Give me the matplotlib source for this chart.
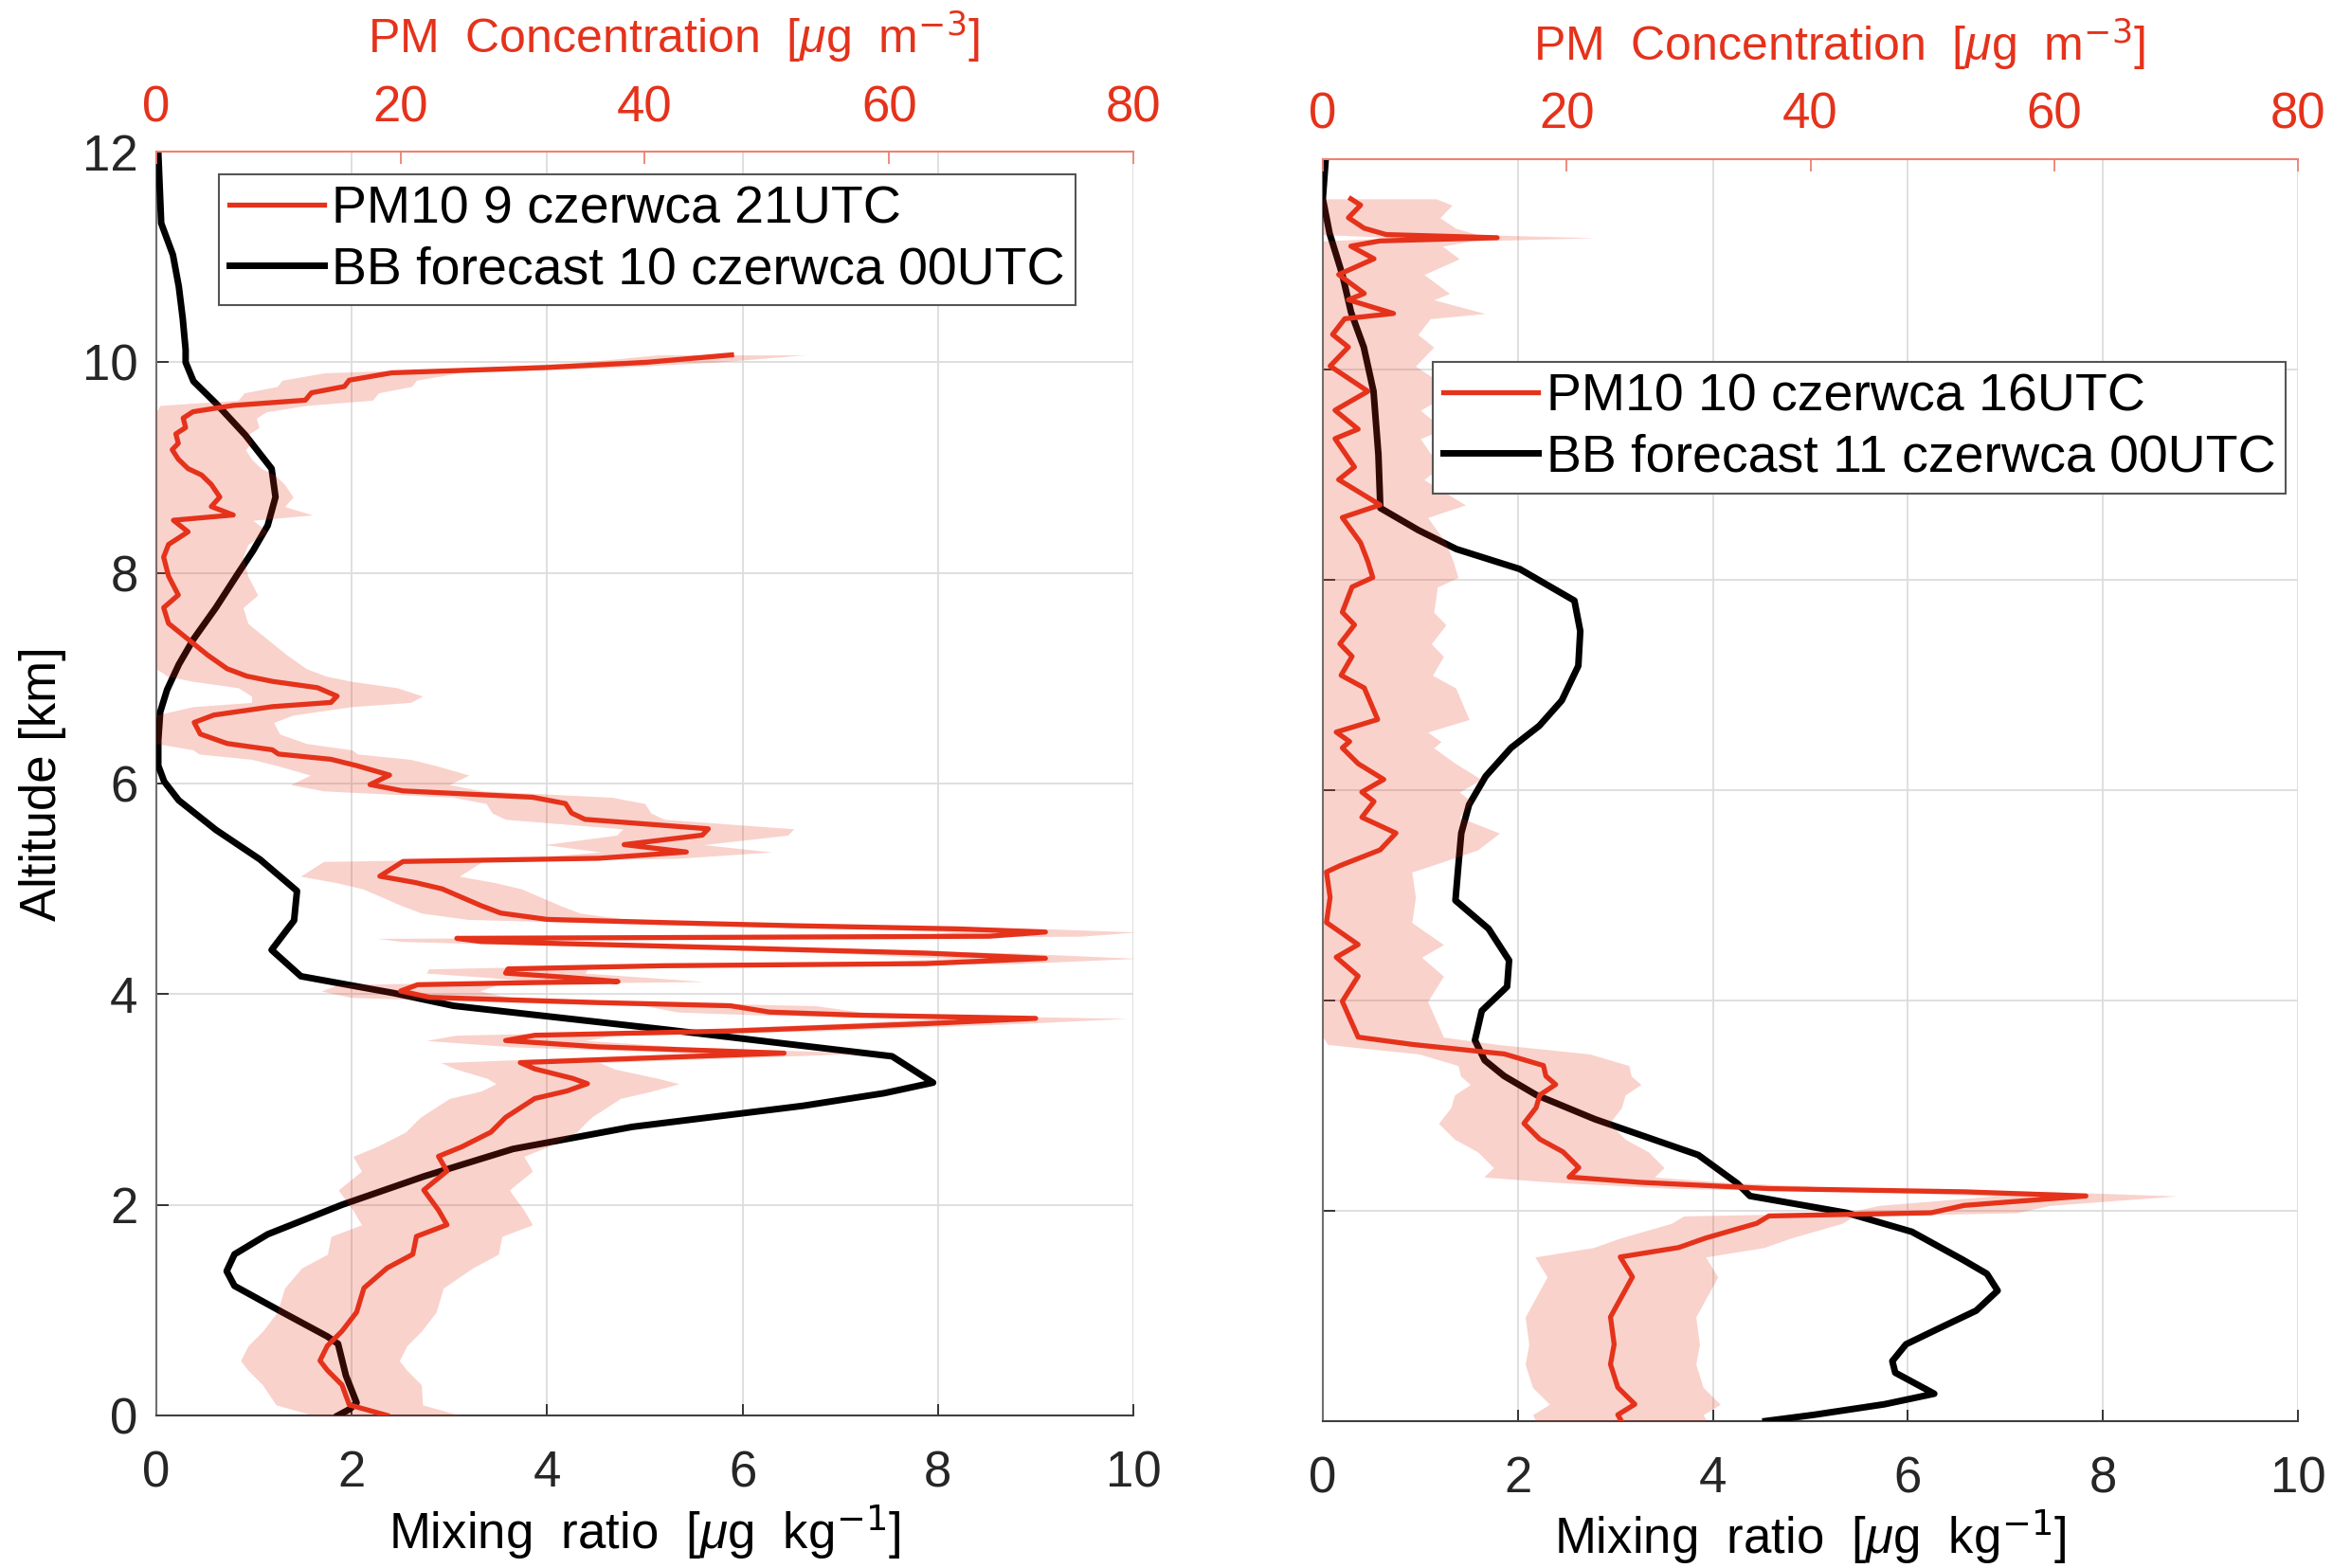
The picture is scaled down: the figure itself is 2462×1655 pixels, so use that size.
import matplotlib
matplotlib.use("Agg")
import matplotlib.pyplot as plt
from matplotlib.lines import Line2D
import numpy as np

# ====== fonts ======
plt.rcParams['font.family'] = ['Liberation Sans', 'DejaVu Sans']
plt.rcParams['mathtext.fontset'] = 'custom'
plt.rcParams['mathtext.rm'] = 'Liberation Sans'
plt.rcParams['mathtext.it'] = 'Liberation Sans:italic'

RED = '#E5321B'
BAND = '#E5321B'
RED_AX = '#EE8070'

# ====== left panel: BB forecast 10 czerwca 00UTC (mixing ratio, ug/kg) ======
left_bb_alt = [12.0, 11.32, 11.02, 10.72, 10.42, 10.12, 10.0, 9.82, 9.61, 9.31,
               8.99, 8.72, 8.45, 8.21, 8.0, 7.67, 7.37, 7.13, 6.89, 6.68,
               6.41, 6.17, 6.02, 5.84, 5.56, 5.28, 4.98, 4.70, 4.42, 4.17,
               4.01, 3.89, 3.66, 3.41, 3.16, 3.06, 2.94, 2.74, 2.53, 2.27,
               2.0, 1.72, 1.53, 1.37, 1.23, 0.98, 0.75, 0.68, 0.38, 0.12,
               0.06, 0.0]
left_bb = [0.02, 0.05, 0.17, 0.23, 0.27, 0.30, 0.30, 0.38, 0.61, 0.91,
           1.18, 1.22, 1.14, 0.99, 0.84, 0.61, 0.38, 0.23, 0.11, 0.04,
           0.02, 0.02, 0.08, 0.23, 0.61, 1.06, 1.44, 1.41, 1.18, 1.48,
           2.43, 3.04, 5.25, 7.53, 7.95, 7.45, 6.62, 4.87, 3.65, 2.74,
           1.90, 1.14, 0.80, 0.72, 0.80, 1.29, 1.75, 1.86, 1.94, 2.05,
           1.98, 1.86]

# ====== left panel: PM10 9 czerwca 21UTC (ug/m3) ======
left_pm_alt = [10.07, 10.0, 9.95, 9.90, 9.83, 9.77, 9.71, 9.64, 9.59, 9.53,
               9.47, 9.38, 9.32, 9.23, 9.17, 9.08, 8.99, 8.93, 8.84, 8.72,
               8.63, 8.55, 8.50, 8.39, 8.27, 8.15, 7.97, 7.79, 7.67, 7.52,
               7.37, 7.22, 7.09, 7.02, 6.97, 6.91, 6.83, 6.77, 6.73, 6.65,
               6.58, 6.47, 6.38, 6.32, 6.28, 6.23, 6.17, 6.08, 5.99, 5.93,
               5.87, 5.81, 5.72, 5.66, 5.57, 5.51, 5.42, 5.35, 5.29, 5.26,
               5.12, 5.06, 5.0, 4.92, 4.84, 4.77, 4.71, 4.68, 4.65, 4.62,
               4.59, 4.55, 4.54, 4.53, 4.50, 4.44, 4.39, 4.34, 4.29, 4.27,
               4.24, 4.20, 4.16, 4.12, 4.11, 4.09, 4.03, 3.97, 3.92, 3.89,
               3.83, 3.80, 3.77, 3.72, 3.65, 3.61, 3.56, 3.50, 3.44, 3.40,
               3.35, 3.29, 3.20, 3.15, 3.08, 3.01, 2.83, 2.69, 2.55, 2.46,
               2.32, 2.14, 1.95, 1.81, 1.70, 1.53, 1.40, 1.21, 0.98, 0.80,
               0.66, 0.52, 0.43, 0.29, 0.10, 0.0]
left_pm = [47.1, 40.2, 31.9, 19.3, 15.8, 15.4, 12.7, 12.2, 6.3, 3.0,
           2.2, 2.4, 1.6, 1.8, 1.3, 1.8, 2.6, 3.7, 4.5, 5.2,
           4.5, 6.3, 1.4, 2.6, 1.0, 0.6, 1.0, 1.8, 0.6, 1.0,
           2.6, 4.2, 5.8, 7.4, 9.5, 13.2, 14.8, 14.3, 9.5, 4.7,
           3.1, 3.6, 5.8, 9.5, 10.0, 14.3, 16.4, 19.1, 17.5, 20.2,
           30.8, 33.5, 34.0, 35.1, 45.2, 44.7, 38.3, 43.4, 36.2, 20.2,
           18.3, 21.2, 23.4, 25.0, 26.6, 28.2, 32.0, 41.6, 52.2, 65.6,
           72.8, 68.2, 47.0, 24.6, 26.6, 47.0, 63.0, 72.8, 63.0, 41.6,
           28.8, 28.6, 33.6, 37.8, 31.0, 21.4, 20.0, 22.4, 36.2, 47.0,
           50.2, 57.6, 72.0, 63.0, 47.0, 31.0, 28.6, 36.2, 51.4, 41.6,
           29.8, 31.0, 34.1, 35.3, 33.6, 31.0, 28.6, 27.4, 25.0, 23.1,
           23.8, 21.9, 23.1, 23.8, 21.3, 21.0, 18.9, 17.0, 16.4, 15.2,
           14.0, 13.4, 14.0, 15.2, 15.8, 18.9]
left_pm_err = [6.0, 5.5, 5.5, 5.5, 5.5, 5.5, 5.5, 5.5, 6.0, 6.0,
               6.0, 6.0, 6.0, 6.0, 6.0, 6.0, 6.0, 6.0, 6.0, 6.0,
               6.0, 6.5, 6.5, 6.5, 6.5, 6.5, 6.5, 6.5, 6.5, 6.5,
               6.5, 6.5, 6.5, 6.5, 6.5, 6.5, 7.0, 6.5, 6.5, 6.5,
               6.5, 6.5, 6.5, 6.5, 6.5, 6.5, 6.5, 6.5, 6.5, 6.5,
               6.5, 6.5, 6.5, 6.5, 7.0, 7.0, 6.5, 7.0, 6.5, 6.5,
               6.5, 6.5, 6.5, 6.5, 6.5, 6.5, 6.5, 6.5, 7.0, 7.5,
               7.5, 7.5, 7.0, 6.5, 6.5, 7.0, 7.5, 7.5, 7.5, 7.0,
               6.5, 6.5, 6.5, 7.0, 6.5, 6.5, 6.5, 6.5, 7.0, 7.0,
               7.5, 7.5, 7.5, 7.5, 7.0, 6.5, 6.5, 7.0, 7.0, 7.0,
               6.5, 6.5, 7.0, 7.5, 7.0, 7.0, 7.0, 7.0, 7.0, 7.0,
               7.0, 7.0, 7.0, 7.0, 7.0, 7.0, 7.0, 6.5, 6.5, 6.5,
               6.5, 6.5, 6.5, 6.5, 6.0, 6.0]

# ====== right panel: BB forecast 11 czerwca 00UTC (mixing ratio, ug/kg) ======
right_bb_alt = [12.0, 11.62, 11.29, 10.90, 10.54, 10.21, 9.79, 9.19, 8.68, 8.47,
                8.29, 8.10, 7.80, 7.51, 7.18, 6.85, 6.61, 6.40, 6.13, 5.86,
                5.59, 5.28, 4.95, 4.68, 4.38, 4.13, 3.90, 3.62, 3.43, 3.28,
                3.10, 2.87, 2.53, 2.26, 2.14, 1.98, 1.80, 1.53, 1.40, 1.24,
                1.05, 0.86, 0.73, 0.57, 0.46, 0.26, 0.16, 0.06, 0.0]
right_bb = [0.03, 0.0, 0.07, 0.20, 0.29, 0.42, 0.52, 0.57, 0.59, 0.98,
            1.37, 2.02, 2.58, 2.64, 2.62, 2.45, 2.22, 1.93, 1.67, 1.50,
            1.42, 1.39, 1.36, 1.70, 1.91, 1.89, 1.63, 1.56, 1.66, 1.86,
            2.19, 2.79, 3.85, 4.25, 4.38, 5.37, 6.04, 6.57, 6.81, 6.92,
            6.70, 6.27, 5.98, 5.84, 5.87, 6.27, 5.76, 5.04, 4.54]

# ====== right panel: PM10 10 czerwca 16UTC (ug/m3) ======
right_pm_alt = [11.62, 11.56, 11.44, 11.34, 11.28, 11.25, 11.22, 11.17, 11.05, 10.90,
                10.72, 10.66, 10.53, 10.48, 10.33, 10.21, 10.03, 9.79, 9.61, 9.43,
                9.34, 9.07, 8.95, 8.71, 8.59, 8.35, 8.17, 8.02, 7.93, 7.69,
                7.57, 7.39, 7.27, 7.09, 6.97, 6.67, 6.55, 6.46, 6.40, 6.25,
                6.10, 5.98, 5.89, 5.74, 5.59, 5.43, 5.28, 5.22, 4.98, 4.74,
                4.53, 4.41, 4.23, 3.99, 3.78, 3.65, 3.58, 3.49, 3.38, 3.28,
                3.20, 3.10, 2.98, 2.83, 2.68, 2.56, 2.41, 2.32, 2.27, 2.21,
                2.18, 2.14, 2.05, 1.98, 1.95, 1.88, 1.74, 1.65, 1.56, 1.37,
                1.18, 0.99, 0.73, 0.54, 0.32, 0.16, 0.06, 0.0]
right_pm = [2.3, 3.1, 2.1, 3.4, 5.2, 14.3, 4.7, 2.3, 4.2, 1.3,
            3.4, 2.1, 5.8, 1.8, 0.8, 2.1, 0.6, 3.7, 1.0, 2.9,
            1.0, 2.6, 1.3, 4.7, 1.6, 3.1, 3.7, 4.1, 2.4, 1.6,
            2.6, 1.4, 2.4, 1.5, 3.4, 4.5, 1.1, 2.2, 1.6, 2.9,
            5.0, 3.2, 4.2, 3.2, 6.0, 4.7, 1.4, 0.3, 0.6, 0.3,
            2.9, 1.1, 2.9, 1.6, 2.4, 2.9, 7.4, 14.9, 18.1, 18.3,
            19.1, 17.8, 17.5, 16.5, 17.8, 19.7, 21.0, 20.2, 26.0, 36.6,
            52.6, 62.6, 52.6, 49.9, 36.6, 35.6, 31.4, 29.2, 24.4, 25.4,
            24.5, 23.6, 23.9, 23.6, 24.2, 25.6, 24.2, 24.5]
right_pm_err = [7.0, 7.5, 7.5, 7.5, 7.5, 8.0, 7.5, 7.5, 7.0, 7.0,
                7.0, 7.0, 7.5, 7.0, 7.0, 7.0, 7.0, 7.0, 7.0, 7.0,
                7.0, 7.0, 7.0, 7.0, 7.0, 7.0, 7.0, 7.0, 7.0, 7.5,
                7.5, 7.5, 7.5, 7.5, 7.5, 7.5, 7.5, 7.5, 7.5, 8.0,
                8.0, 8.0, 8.0, 8.0, 8.5, 8.0, 7.5, 7.0, 7.0, 7.0,
                7.0, 7.0, 7.0, 7.0, 7.0, 7.0, 7.0, 7.0, 7.0, 7.0,
                7.0, 7.0, 7.0, 7.0, 7.0, 7.0, 7.0, 7.0, 7.0, 7.5,
                7.5, 7.5, 7.0, 7.0, 7.0, 7.0, 7.0, 7.0, 7.0, 7.0,
                7.0, 7.0, 7.0, 7.0, 7.0, 7.0, 7.0, 7.0]

panels = [
    dict(rect=[0.067, 0.0973, 0.4188, 0.806], bb_alt=left_bb_alt, bb=left_bb,
         pm_alt=left_pm_alt, pm=left_pm, err=left_pm_err,
         labels=['PM10 9 czerwca 21UTC', 'BB forecast 10 czerwca 00UTC'],
         leg=(0.064, 0.982), ylabels=True),
    dict(rect=[0.567, 0.0937, 0.418, 0.805], bb_alt=right_bb_alt, bb=right_bb,
         pm_alt=right_pm_alt, pm=right_pm, err=right_pm_err,
         labels=['PM10 10 czerwca 16UTC', 'BB forecast 11 czerwca 00UTC'],
         leg=(0.113, 0.839), ylabels=False),
]

FS = 38
LW_BB = 5.0
LW_PM = 3.8

fig = plt.figure(figsize=(24.62, 16.55), dpi=100)

for p in panels:
    ax = fig.add_axes(p['rect'])
    ax.plot(p['bb'], p['bb_alt'], color='black', lw=LW_BB, zorder=3)
    ax.set_xlim(0, 10)
    ax.set_ylim(0, 12)
    ax.set_xticks(np.arange(0, 11, 2))
    ax.set_yticks(np.arange(0, 13, 2))
    ax.grid(True, color='#dcdcdc', lw=1.3)
    ax.set_axisbelow(True)
    ax.tick_params(direction='in', length=9, width=1.3, labelsize=FS, pad=26, colors='#262626')
    ax.tick_params(axis='y', pad=14, labelleft=p['ylabels'])
    ax.spines['top'].set_visible(False)
    ax.spines['right'].set_visible(False)
    ax.spines['left'].set_color('#707070')
    ax.spines['bottom'].set_color('#404040')
    for s in ('left', 'bottom'):
        ax.spines[s].set_linewidth(1.5)
    ax.set_xlabel('Mixing  ratio  [$\\mu$g  kg$^{\\mathsf{-1}}$]', fontsize=FS, labelpad=4)
    if p['ylabels']:
        ax.set_ylabel('Altitude [km]', fontsize=FS, labelpad=12)

    # PM concentration on the top axis
    ax2 = ax.twiny()
    pm = np.array(p['pm'])
    err = np.array(p['err'])
    ax2.fill_betweenx(p['pm_alt'], np.clip(pm - err, 0, None), pm + err,
                      color=BAND, alpha=0.22, lw=0, zorder=2)
    ax2.plot(pm, p['pm_alt'], color=RED, lw=LW_PM, zorder=4)
    ax2.set_xlim(0, 80)
    ax2.set_xticks(np.arange(0, 81, 20))
    ax2.tick_params(direction='in', length=9, width=1.3, labelsize=FS, pad=15,
                    colors=RED_AX, labelcolor=RED)
    for s in ('left', 'right', 'bottom'):
        ax2.spines[s].set_visible(False)
    ax2.spines['top'].set_color(RED_AX)
    ax2.spines['top'].set_linewidth(1.5)
    ax2.set_xlabel('PM  Concentration  [$\\mu$g  m$^{\\mathsf{-3}}$]', fontsize=36,
                   color=RED, labelpad=24)
    ax2.xaxis.label.set_x(0.53)

    handles = [Line2D([], [], color=RED, lw=LW_PM), Line2D([], [], color='black', lw=LW_BB)]
    leg = ax2.legend(handles, p['labels'], loc='upper left', bbox_to_anchor=p['leg'],
                     borderaxespad=0, fontsize=40, frameon=True, fancybox=False,
                     framealpha=1, edgecolor='#555555', handlelength=1.8,
                     handletextpad=0.15, labelspacing=0.22, borderpad=0.2)
    leg.get_frame().set_linewidth(1.5)
    leg.set_zorder(10)

plt.savefig('out.png', dpi=100)
